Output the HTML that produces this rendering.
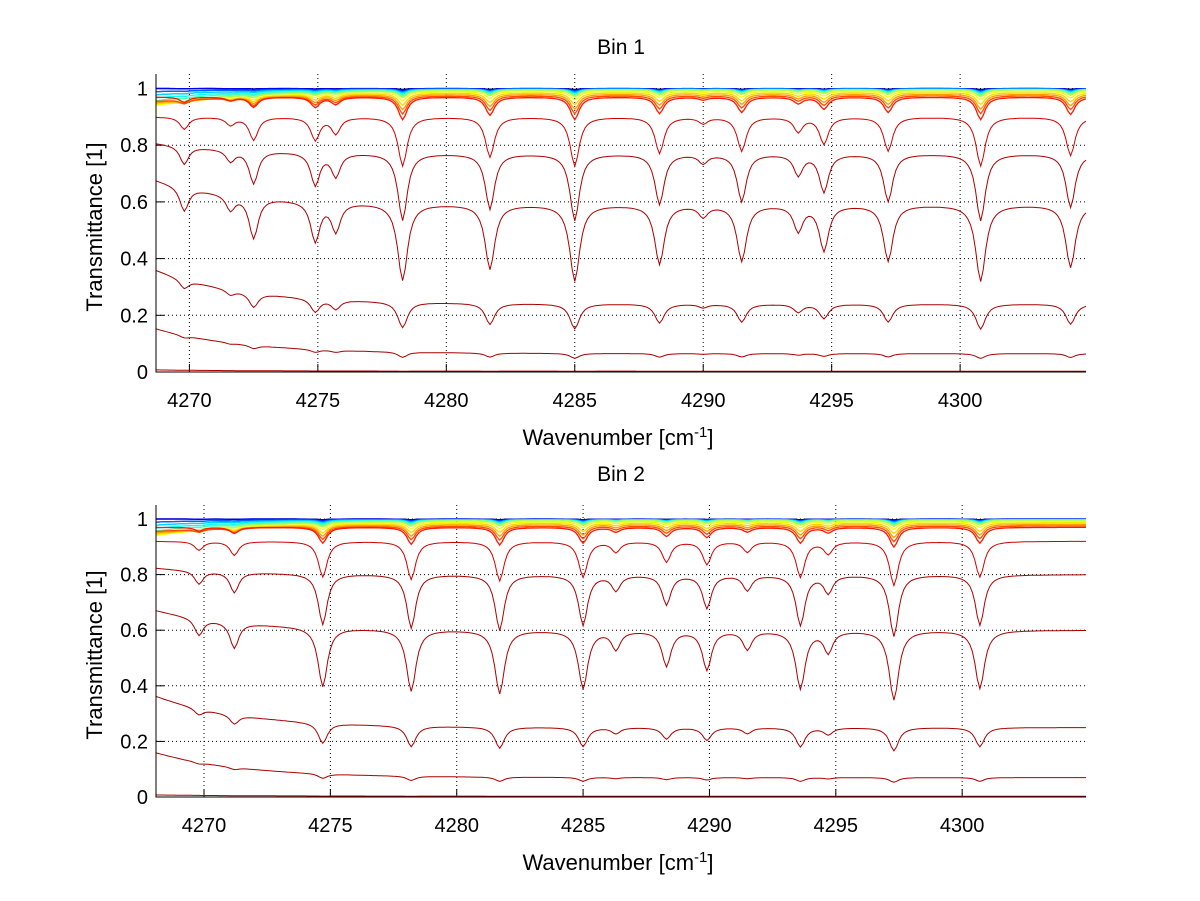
<!DOCTYPE html>
<html><head><meta charset="utf-8"><style>
body{margin:0;background:#fff}
svg{display:block;font-family:"Liberation Sans",sans-serif}
</style></head><body>
<svg id="fig" width="1200" height="901" viewBox="0 0 1200 901" xmlns="http://www.w3.org/2000/svg"></svg>
<script>
// ---- data ----
const xTicks=[4270,4275,4280,4285,4290,4295,4300];
const yTicks=[0,0.2,0.4,0.6,0.8,1];
const yTickLabels=["0","0.2","0.4","0.6","0.8","1"];
// absorption line centers and optical depths (bin 1)
const lines1=[4269.8,4271.6,4272.5,4274.9,4275.7,4278.3,4281.7,4285.0,4288.3,4290.0,4291.5,4293.7,4294.7,4297.2,4300.8,4304.3];
const depth1=[0.14,0.09,0.27,0.27,0.19,0.61,0.49,0.61,0.44,0.07,0.41,0.17,0.32,0.41,0.61,0.47];
// bin 2
const lines2=[4269.8,4271.2,4274.7,4278.2,4281.7,4285.0,4286.3,4288.3,4289.9,4291.5,4293.6,4294.7,4297.3,4300.7];
const depth2=[0.1,0.16,0.43,0.46,0.48,0.43,0.12,0.24,0.27,0.12,0.43,0.14,0.54,0.43];
// curves: baseline level, absorption scale, left-edge gain
const levels1=[1.0,1.0,1.0,0.999,0.999,0.998,0.998,0.997,0.997,0.996,0.995,0.99,0.985,0.98,0.975,0.97,0.9,0.77,0.59,0.24,0.065,0.003];
const scales1=[0.005,0.008,0.01,0.012,0.015,0.018,0.02,0.025,0.03,0.035,0.04,0.05,0.07,0.09,0.11,0.14,0.35,0.6,1.0,0.75,0.5,0.3];
const edge1=[0,0,0,-0.01,-0.01,-0.02,-0.02,-0.03,-0.04,-0.05,-0.05,-0.05,-0.04,-0.03,-0.02,0,0.0,0.05,0.15,0.5,0.9,1];
const levels2=[1.0,1.0,1.0,0.999,0.999,0.998,0.998,0.997,0.997,0.996,0.995,0.99,0.985,0.98,0.975,0.97,0.92,0.8,0.6,0.25,0.07,0.003];
const scales2=[0.005,0.008,0.01,0.012,0.015,0.018,0.02,0.025,0.03,0.035,0.04,0.05,0.07,0.09,0.11,0.14,0.35,0.6,1.0,0.75,0.5,0.3];
const edge2=[0,0,0,-0.01,-0.01,-0.02,-0.02,-0.03,-0.04,-0.05,-0.05,-0.05,-0.04,-0.03,-0.02,0,0.0,0.03,0.12,0.45,0.85,1];

const NS="http://www.w3.org/2000/svg";
const svg=document.getElementById('fig');
function mk(t,a,p){const e=document.createElementNS(NS,t);for(const k in a)e.setAttribute(k,a[k]);(p||svg).appendChild(e);return e;}
function jet(t){
  const r=Math.min(1,Math.max(0,1.5-Math.abs(4*t-3)));
  const g=Math.min(1,Math.max(0,1.5-Math.abs(4*t-2)));
  const b=Math.min(1,Math.max(0,1.5-Math.abs(4*t-1)));
  return `rgb(${Math.round(r*255)},${Math.round(g*255)},${Math.round(b*255)})`;
}
function panel(o){
  const g=mk('g',{});
  
  
  const X=v=>o.x0+(v-o.xmin)/(o.xmax-o.xmin)*(o.x1-o.x0);
  const Y=v=>o.yb-v*o.ypu;
  xTicks.forEach(t=>{
    const l=mk('line',{x1:X(t),x2:X(t),y1:o.yt,y2:o.yb,stroke:'#000','stroke-width':1,'stroke-dasharray':'1,3'},g);
    
    const tx=mk('text',{x:X(t),y:o.yb+35,'text-anchor':'middle','font-size':20},g);tx.textContent=t;
    
    mk('line',{x1:X(t),x2:X(t),y1:o.yb,y2:o.yb-8,stroke:'#000'},g);
  });
  yTicks.forEach((t,i)=>{
    if(t>0){const l=mk('line',{x1:o.x0,x2:o.x1,y1:Y(t),y2:Y(t),stroke:'#000','stroke-width':1,'stroke-dasharray':'1,3'},g);
    }
    const tx=mk('text',{x:o.x0-8,y:Y(t)+7,'text-anchor':'end','font-size':20},g);tx.textContent=yTickLabels[i];
    
    mk('line',{x1:o.x0,x2:o.x0+8,y1:Y(t),y2:Y(t),stroke:'#000'},g);
  });
  const n=o.levels.length;
  for(let c=0;c<n;c++){
    let d='';
    for(let w=o.xmin;w<=o.xmax+1e-9;w+=0.1){
      let tau=0;
      for(let i=0;i<o.lines.length;i++){const dx=(w-o.lines[i])/0.2;tau+=o.depth[i]/(1+dx*dx);}
      const edge=Math.exp(-(w-o.xmin)/3.5);
      let v=o.levels[c]*Math.exp(-o.scales[c]*tau)*(1+o.edge[c]*edge*(o.edge[c]>0.8?1.5:1));
      v=Math.min(v,1.04);
      d+=(d?'L':'M')+X(w).toFixed(1)+','+Y(v).toFixed(1);
    }
    let col;
    if(c<14) col=jet(c/18);
    else if(c<16) col=jet(0.8+ (c-14)*0.05);
    else if(c===16) col='#d00000';
    else col='#aa0000';
    const p=mk('path',{d:d,fill:'none',stroke:col,'stroke-width':c<16?1.3:1},g);
    
    
  }
  const ax=mk('path',{d:`M${o.x0},${o.yt}V${o.yb}H${o.x1}`,fill:'none',stroke:'#000','stroke-width':1},g);
  
  const ti=mk('text',{x:621,y:o.titleY,'text-anchor':'middle','font-size':21},g);ti.textContent=o.title;
  
  const xl=mk('text',{x:618,y:o.yb+73,'text-anchor':'middle','font-size':22},g);
  xl.innerHTML='Wavenumber [cm<tspan dy="-8" font-size="15">-1</tspan><tspan dy="8">]</tspan>';
  
  const yl=mk('text',{x:0,y:0,'text-anchor':'middle','font-size':22,transform:`translate(102,${(o.yt+o.yb)/2+4}) rotate(-90)`},g);
  yl.textContent='Transmittance [1]';
  
}
panel({name:'bin1-panel',title:'Bin 1',titleY:54,x0:156,x1:1086,xmin:4268.7,xmax:4304.9,yt:74,yb:372,ypu:283.5,
  lines:lines1,depth:depth1,levels:levels1,scales:scales1,edge:edge1});
panel({name:'bin2-panel',title:'Bin 2',titleY:481,x0:156,x1:1086,xmin:4268.1,xmax:4304.9,yt:505,yb:797,ypu:278,
  lines:lines2,depth:depth2,levels:levels2,scales:scales2,edge:edge2});
</script>
</body></html>
